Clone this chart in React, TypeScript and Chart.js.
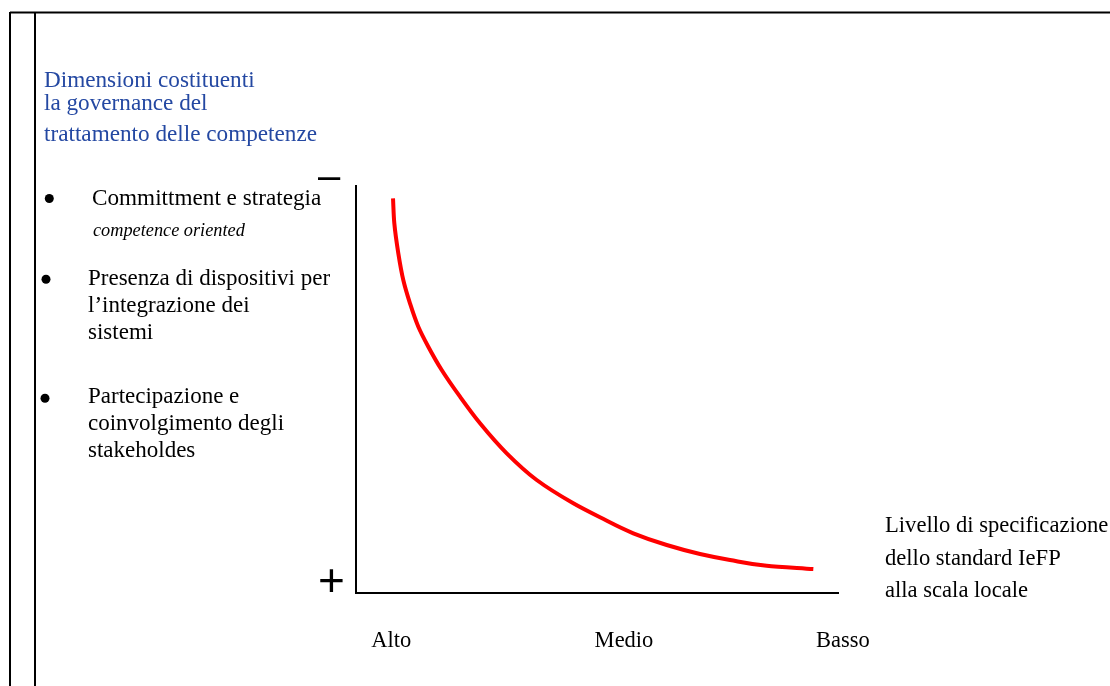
import { useEffect, useRef } from "react";
import { Chart, registerables } from "chart.js";

Chart.register(...registerables);

// ---- Data ----
const curveX = [7.68, 7.95, 8.78, 9.81, 11.2, 12.93, 15.0, 17.78, 21.58, 25.73, 31.27, 37.49, 45.08, 50.62, 57.53, 64.46, 71.37, 77.59, 85.21, 94.88];
const curveY = [96.98, 90.84, 83.46, 76.9, 71.18, 65.43, 60.52, 54.79, 48.23, 41.7, 34.32, 27.76, 22.04, 18.6, 14.67, 11.79, 9.58, 8.11, 6.71, 5.9];
const levelLabels = ["Alto", "Medio", "Basso"];
const levelValues = [7.3, 55.6, 101];
const titleLines = ["Dimensioni costituenti", "la governance del", "trattamento delle competenze"];
const bulletOne = ["Committment e strategia"];
const bulletOneItalic = ["competence oriented"];
const bulletTwo = ["Presenza di dispositivi per", "l\u2019integrazione dei", "sistemi"];
const bulletThree = ["Partecipazione e", "coinvolgimento degli", "stakeholdes"];
const axisCaption = ["Livello di specificazione", "dello standard IeFP", "alla scala locale"];

const SERIF = '"Liberation Serif", "Times New Roman", serif';
const SANS = '"Liberation Sans", Arial, sans-serif';
const BLUE = "#2448a2";

export default function App() {
  const ref = useRef<HTMLCanvasElement | null>(null);

  useEffect(() => {
    const canvas = ref.current;
    if (!canvas) return;

    const decor = {
      id: "decor",
      beforeDraw(chart: any) {
        const ctx = chart.ctx as CanvasRenderingContext2D;
        ctx.save();
        ctx.strokeStyle = "#000";
        ctx.lineWidth = 2;
        ctx.beginPath();
        ctx.moveTo(10, 12.5);
        ctx.lineTo(1110, 12.5);
        ctx.moveTo(10, 12);
        ctx.lineTo(10, 686);
        ctx.moveTo(35, 12);
        ctx.lineTo(35, 686);
        ctx.stroke();
        ctx.restore();
      },
      afterDraw(chart: any) {
        const ctx = chart.ctx as CanvasRenderingContext2D;
        const xs = chart.scales.x;
        ctx.save();
        ctx.textAlign = "left";
        ctx.textBaseline = "alphabetic";

        // Title
        ctx.fillStyle = BLUE;
        ctx.font = `23.2px ${SERIF}`;
        const titleBase = [87, 110, 141];
        titleLines.forEach((t, i) => ctx.fillText(t, 44, titleBase[i]));

        // Bullets
        ctx.fillStyle = "#000";
        const dot = (x: number, y: number) => {
          ctx.beginPath();
          ctx.arc(x, y, 4.5, 0, Math.PI * 2);
          ctx.fill();
        };
        ctx.font = `23.2px ${SERIF}`;
        dot(49.3, 198.5);
        ctx.fillText(bulletOne[0], 92, 205);
        ctx.font = `italic 18.3px ${SERIF}`;
        ctx.fillText(bulletOneItalic[0], 93, 236);
        ctx.font = `23px ${SERIF}`;
        dot(46, 279.3);
        const b2 = [285, 312, 339];
        bulletTwo.forEach((t, i) => ctx.fillText(t, 88, b2[i]));
        dot(45, 398.3);
        const b3 = [403, 430, 457];
        bulletThree.forEach((t, i) => ctx.fillText(t, 88, b3[i]));

        // Axis caption on the right
        ctx.font = `22.6px ${SERIF}`;
        const capBase = [532, 565, 597];
        axisCaption.forEach((t, i) => ctx.fillText(t, 885, capBase[i]));

        // Level labels under the x axis
        ctx.font = `22.5px ${SERIF}`;
        ctx.textAlign = "center";
        levelLabels.forEach((t, i) => {
          ctx.fillText(t, xs.getPixelForValue(levelValues[i]), 647);
        });

        // + and - signs
        const centered = (txt: string, cx: number, cy: number, font: string) => {
          ctx.font = font;
          ctx.textAlign = "left";
          const m = ctx.measureText(txt);
          const w = m.actualBoundingBoxRight + m.actualBoundingBoxLeft;
          const top = m.actualBoundingBoxAscent;
          const bottom = m.actualBoundingBoxDescent;
          const h = top + bottom;
          ctx.fillText(txt, cx - w / 2 + m.actualBoundingBoxLeft, cy - h / 2 + top);
        };
        centered("+", 331.5, 580, `46px ${SANS}`);
        centered("\u2013", 329.5, 178, `40px ${SANS}`);
        ctx.restore();
      },
    };

    const chart = new Chart(canvas, {
      type: "scatter",
      data: {
        datasets: [
          {
            data: curveX.map((x, i) => ({ x, y: curveY[i] })),
            showLine: true,
            borderColor: "#ff0000",
            backgroundColor: "#ff0000",
            borderWidth: 4,
            pointRadius: 0,
            cubicInterpolationMode: "monotone",
            clip: false,
          } as any,
        ],
      },
      options: {
        indexAxis: "y",
        responsive: false,
        animation: false,
        layout: { padding: { left: 356, top: 186, right: 272, bottom: 93 } },
        plugins: { legend: { display: false }, tooltip: { enabled: false } },
        scales: {
          x: {
            type: "linear",
            min: 0,
            max: 100,
            grid: { display: false, drawTicks: false },
            ticks: { display: false },
            border: { display: true, color: "#000", width: 2 },
          },
          y: {
            type: "linear",
            min: 0,
            max: 100,
            grid: { display: false, drawTicks: false },
            ticks: { display: false },
            border: { display: true, color: "#000", width: 2 },
          },
        },
      },
      plugins: [decor],
    } as any);
    return () => chart.destroy();
  }, []);

  return (
    <div style={{ position: "absolute", left: 0, top: 0, width: 1110, height: 686, background: "#fff" }}>
      <canvas ref={ref} width={1110} height={686} style={{ display: "block" }} />
    </div>
  );
}
